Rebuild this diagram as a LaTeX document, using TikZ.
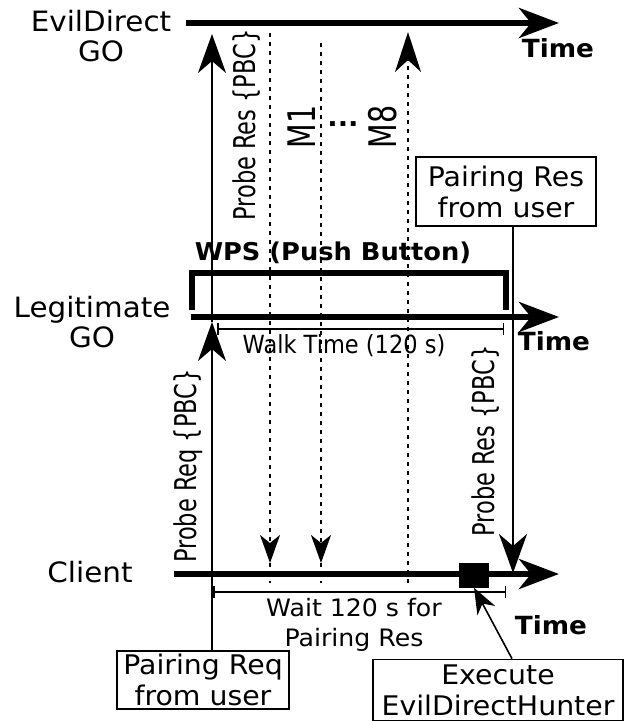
\documentclass[tikz,border=0pt]{standalone}
\usepackage{fontspec}
\setmainfont{DejaVu Sans}[FakeStretch=1.05]
\newfontfamily\narrowfont{DejaVu Sans}[FakeStretch=0.75]
\newfontfamily\condfont{DejaVu Sans}[FakeStretch=0.9]
\usetikzlibrary{arrows.meta,positioning}

\begin{document}
\begin{tikzpicture}[x=1pt, y=-1pt,
  timeline/.style={line width=6pt, -{Stealth[length=40pt, width=30pt, inset=12pt]}},
  msg/.style={line width=1.6pt, -{Stealth[length=39pt, width=28pt, inset=12pt]}},
  dotline/.style={line width=2pt, dash pattern=on 4pt off 5pt},
  dotmsg/.style={dotline, -{Stealth[length=28pt, width=20pt, inset=8pt]}},
  dotup/.style={dotline, -{Stealth[length=40pt, width=26pt, inset=12pt]}},
  actor/.style={align=center, font=\fontsize{28}{30}\selectfont},
  timetag/.style={font=\fontsize{25}{28}\selectfont\bfseries},
  userbox/.style={draw, line width=1.6pt, align=center, inner sep=0pt, font=\fontsize{27}{31}\selectfont},
  msglabel/.style={rotate=90, font=\fontsize{30}{32}\narrowfont},
  span/.style={line width=1.5pt, {Bar[width=12pt]}-{Bar[width=12pt]}}]

\useasboundingbox (0,0) rectangle (624,722);

% Time lines
\coordinate (evilS) at (186,23);
\coordinate (evilE) at (559,23);
\coordinate (legitS) at (191,317);
\coordinate (legitE) at (559,317);
\coordinate (clientS) at (174,574);
\coordinate (clientE) at (559,574);

\node[actor] (evil) at (101,36) {EvilDirect\\GO};
\node[actor] (legit) at (92,322) {Legitimate\\GO};
\node[actor] (client) at (90,572) {Client};
\node[timetag] (evilT) at (558,48) {Time};
\node[timetag] (legitT) at (554,341) {Time};
\node[timetag] (clientT) at (551,625) {Time};

% WPS window on the legitimate GO
\node[font=\fontsize{24.5}{26}\selectfont\bfseries] (wps) at (333,253) {WPS (Push Button)};
\draw[line width=6pt] (192,310) -- (192,273) -- (506,273) -- (506,310);

\coordinate (walkL) at (217,329);
\coordinate (walkR) at (504,329);
\draw[span] (walkL) -- (walkR);
\node[font=\fontsize{25}{28}\condfont] (walk) at (344,346) {Walk Time (120 s)};

% Waiting on the client
\coordinate (waitL) at (213,592);
\coordinate (waitR) at (506,592);
\draw[span] (waitL) -- (waitR);
\node[align=center, font=\fontsize{24}{30}\selectfont] (wait) at (354,625) {Wait 120 s for\\Pairing Res};

% User boxes
\node[userbox, minimum width=172, minimum height=58] (preq) at (203,680) {Pairing Req\\from user};
\node[userbox, minimum width=180, minimum height=69] (pres) at (506,191.5) {Pairing Res\\from user};
\node[userbox, minimum width=250, minimum height=61] (exec) at (498,690) {Execute\\EvilDirectHunter};

% Probe Req from the client
\coordinate (reqL) at (212,322);
\coordinate (reqE) at (212,34);
\draw[msg] (preq.north -| reqL) -- (reqL);
\draw[msg] (reqL) -- (reqE);
\node[msglabel] (reqlab) at (188,466) {Probe Req \{PBC\}};

% Messages from EvilDirect
\coordinate (evRes) at (270,33);
\coordinate (evResC) at (270,563);
\coordinate (mOne) at (321,43);
\coordinate (mOneC) at (321,563);
\coordinate (mEight) at (408,583);
\coordinate (mEightE) at (408,32);
\draw[dotmsg] (evRes) -- (evResC);
\draw[dotline] (evResC) -- ++(0,20);
\draw[dotmsg] (mOne) -- (mOneC);
\draw[dotline] (mOneC) -- ++(0,20);
\draw[dotup] (mEight) -- (mEightE);
\node[msglabel] (reslab) at (247,125) {Probe Res \{PBC\}};
\node[rotate=90, font=\fontsize{38}{40}\narrowfont] (mOneLab) at (302,127) {M1};
\node[font=\fontsize{26}{28}\selectfont\bfseries] (dots) at (343,124) {...};
\node[rotate=90, font=\fontsize{38}{40}\narrowfont] (mEightLab) at (383,127) {M8};

% Probe Res from the legitimate GO
\coordinate (resC) at (513,573);
\draw[msg] (pres.south -| resC) -- (resC);
\node[msglabel] (res2lab) at (486,441) {Probe Res \{PBC\}};

% Time lines on top
\draw[timeline] (evilS) -- (evilE);
\draw[timeline] (legitS) -- (legitE);
\draw[timeline] (clientS) -- (clientE);

% EvilDirectHunter
\node[fill, minimum width=30, minimum height=25, inner sep=0pt] (hunt) at (474,575) {};
\draw[line width=1.6pt, -{Stealth[length=26pt, width=20pt, inset=8pt]}] ([xshift=14pt]exec.north) -- (hunt.south);

\end{tikzpicture}
\end{document}
